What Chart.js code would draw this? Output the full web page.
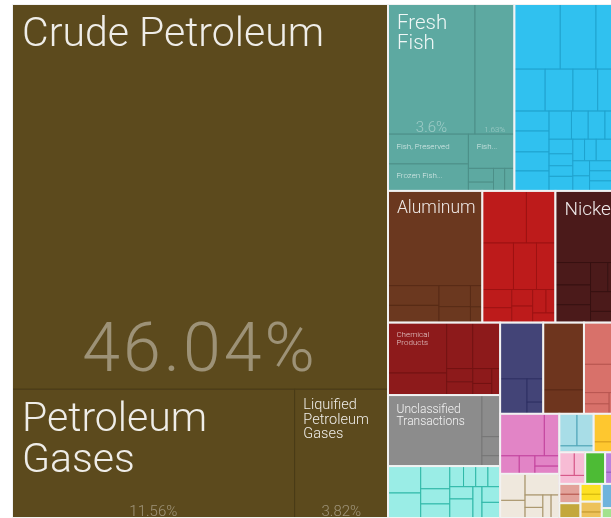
<!DOCTYPE html>
<html lang="en">
<head>
  <meta charset="UTF-8" />
  <title>Export treemap</title>
  <script src="https://cdn.jsdelivr.net/npm/chart.js@4.4.3/dist/chart.umd.min.js"></script>
  <style>
    html, body {
      margin: 0;
      padding: 0;
      background: #ffffff;
      overflow: hidden;
    }
    .chart-box {
      position: absolute;
      left: 12px;
      top: 4px;
      width: 612px;
      height: 514px;
    }
  </style>
</head>
<body>
  <div class="chart-box">
    <canvas id="treemap"></canvas>
  </div>

  <script>
    // share of total exports (%) per product, nested arrays = sub-blocks
    const mineralValues = [46.04, [11.56, 3.82]];
    const fishValues = [[3.6, 1.63], [[0.76, 0.69], [0.5, [[0.11, 0.07], 0.08, 0.07]]]];
    const machineValues = [[0.95, 0.74, 0.58], [0.41, 0.37, 0.33, 0.35],
      [[0.22, 0.23, 0.21, 0.22], [[0.2, 0.15, 0.15, 0.17], [[0.11, 0.09, 0.08, 0.11], [[0.08, 0.08, 0.19], [[0.08, 0.08], [0.11, 0.11, 0.11]]]]]]];
    const aluminiumValues = [2.84, [[0.32, 0.28], [0.21, 0.16], [0.08, 0.06]]];
    const ironValues = [[0.73, 0.48], [0.46, 0.34, 0.28], [[0.17, 0.14], [0.11, 0.11], [[0.1, 0.07], 0.07]]];
    const nickelValues = [1.56, [[0.25, 0.22, 0.2], [[0.16, 0.15], 0.21, 0.12]]];
    const chemicalValues = [[0.94, 0.41], [[0.38, 0.4], [[0.11, 0.11], [0.09, 0.07], 0.07]]];
    const unclassifiedValues = [2.12, [0.24, 0.11, 0.06]];
    const aquaValues = [[0.28, 0.26], [0.21, 0.14, 0.13], [[0.09, 0.08, 0.08, 0.08], [[0.09, 0.14], 0.09, [0.09, 0.09]]]];
    const navyValues = [0.77, [0.3, [0.12, 0.06]]];
    const copperValues = [0.87, 0.31];
    const salmonValues = [0.53, 0.36, [[0.09, 0.08], 0.1]];
    const pinkValues = [[0.59, 0.2], [0.11, 0.09, [0.08, 0.06]]];
    const beigeValues = [[0.21, 0.14], [0.23, [[0.07, 0.06], 0.06, 0.06]]];
    const skyValues = [[0.18, 0.17], 0.07];
    const orangeValues = [0.27, 0.1];
    const lightPinkValues = [[0.11, 0.08], 0.07];
    const greenValues = [0.2];
    const purpleValues = [0.12, 0.07];
    const roseValues = [0.07, 0.06];
    const oliveValues = [0.1];
    const yellowValues = [0.07, 0.05];
    const goldValues = [0.07, 0.04];
    const blueValues = [0.17];
    const lightGreenValues = [0.07];

    // product names (same order as the flattened values)
    const mineralNames = ['Crude Petroleum', 'Petroleum Gases', 'Liquified Petroleum Gases'];
    const fishNames = ['Fresh Fish', '', 'Fish, Preserved', 'Frozen Fish...', 'Fish...'];
    const aluminiumNames = ['Aluminum'];
    const nickelNames = ['Nickel'];
    const chemicalNames = ['Chemical Products'];
    const unclassifiedNames = ['Unclassified Transactions'];

    // groups: values, colours, first split direction inside the group
    const groups = {
      mineral:      { values: mineralValues, names: mineralNames, fill: '#5C4A1D', line: '#4A3B17', dir: 'v' },
      fish:         { values: fishValues, names: fishNames, fill: '#5DA9A1', line: '#4C8F88', dir: 'v' },
      machines:     { values: machineValues, fill: '#30C1EF', line: '#1FA3CF', dir: 'v' },
      aluminium:    { values: aluminiumValues, names: aluminiumNames, fill: '#6B381F', line: '#582B16', dir: 'v' },
      iron:         { values: ironValues, fill: '#BD1B1B', line: '#9E1212', dir: 'v' },
      nickel:       { values: nickelValues, names: nickelNames, fill: '#4B1A1A', line: '#371111', dir: 'v' },
      chemicals:    { values: chemicalValues, names: chemicalNames, fill: '#8D1A1B', line: '#731212', dir: 'h' },
      unclassified: { values: unclassifiedValues, names: unclassifiedNames, fill: '#8C8C8C', line: '#767676', dir: 'h' },
      aqua:         { values: aquaValues, fill: '#9AEDE6', line: '#2FB8A8', dir: 'h' },
      navy:         { values: navyValues, fill: '#434477', line: '#2E2F63', dir: 'v' },
      copper:       { values: copperValues, fill: '#6E351E', line: '#5A2815', dir: 'v' },
      salmon:       { values: salmonValues, fill: '#D8716A', line: '#B85650', dir: 'v' },
      pink:         { values: pinkValues, fill: '#E284C6', line: '#C4449E', dir: 'v' },
      beige:        { values: beigeValues, fill: '#EFE8DD', line: '#A8946A', dir: 'h' },
      sky:          { values: skyValues, fill: '#A8DDE7', line: '#4FA5B8', dir: 'v' },
      orange:       { values: orangeValues, fill: '#FEC72F', line: '#D99E1A', dir: 'v' },
      lightPink:    { values: lightPinkValues, fill: '#F7BCD5', line: '#D65587', dir: 'v' },
      green:        { values: greenValues, fill: '#4DBB35', line: '#3C9A28', dir: 'v' },
      purple:       { values: purpleValues, fill: '#B983DD', line: '#9560BA', dir: 'v' },
      rose:         { values: roseValues, fill: '#E2A29A', line: '#B85A52', dir: 'v' },
      olive:        { values: oliveValues, fill: '#C3A83C', line: '#9E8628', dir: 'v' },
      yellow:       { values: yellowValues, fill: '#FDE023', line: '#D4B80C', dir: 'v' },
      gold:         { values: goldValues, fill: '#EDC25A', line: '#C49A30', dir: 'v' },
      blue:         { values: blueValues, fill: '#6FB3DC', line: '#4C93BE', dir: 'v' },
      lightGreen:   { values: lightGreenValues, fill: '#A2E28E', line: '#79C064', dir: 'v' }
    };

    // how the groups are nested (columns first, then alternating rows/columns)
    const groupLayout = ['mineral', [
      ['fish', 'machines'],
      ['aluminium', 'iron', 'nickel'],
      [['chemicals', 'unclassified', 'aqua'],
       [['navy', 'copper', 'salmon'],
        [['pink', 'beige'],
         [['sky', 'orange'], ['lightPink', 'green', 'purple'],
          [['rose', 'olive'], ['yellow', 'gold'], ['blue', 'lightGreen']]]]]]
    ]];

    // label sizes (px) for the labelled cells
    const labelStyle = {
      'mineral-0': { size: 41, pct: 68, spacing: 3 },
      'mineral-1': { size: 41, pct: 15 },
      'mineral-2': { size: 14.5, pct: 15 },
      'fish-0': { size: 20.5, pct: 15 },
      'fish-1': { pct: 8 },
      'fish-2': { size: 8 },
      'fish-3': { size: 8 },
      'fish-4': { size: 8 },
      'aluminium-0': { size: 17.5 },
      'nickel-0': { size: 19 },
      'chemicals-0': { size: 8 },
      'unclassified-0': { size: 12 }
    };

    const FONT = 'Roboto, "Liberation Sans", Arial, sans-serif';

    function sizeOf(node) {
      if (typeof node === 'number') return node;
      if (typeof node === 'string') return sizeOf(groups[node].values);
      return node.reduce((s, c) => s + sizeOf(c), 0);
    }

    // slice and dice, alternating direction at each level
    function place(node, x0, y0, x1, y1, dir, out) {
      if (!Array.isArray(node)) {
        out.push({ node, x0, y0, x1, y1 });
        return;
      }
      const total = sizeOf(node);
      let pos = dir === 'h' ? x0 : y0;
      node.forEach(child => {
        const share = sizeOf(child) / total;
        if (dir === 'h') {
          const w = (x1 - x0) * share;
          place(child, pos, y0, pos + w, y1, 'v', out);
          pos += w;
        } else {
          const h = (y1 - y0) * share;
          place(child, x0, pos, x1, pos + h, 'h', out);
          pos += h;
        }
      });
    }

    function wrap(ctx, text, maxW) {
      const words = text.split(' ');
      const lines = [];
      let line = '';
      words.forEach(w => {
        const test = line ? line + ' ' + w : w;
        if (line && ctx.measureText(test).width > maxW) {
          lines.push(line);
          line = w;
        } else {
          line = test;
        }
      });
      if (line) lines.push(line);
      return lines;
    }

    const treemapPlugin = {
      id: 'treemap',
      afterDraw(chart) {
        const ctx = chart.ctx;
        const xs = chart.scales.x, ys = chart.scales.y;
        const px = v => xs.getPixelForValue(v);
        const py = v => ys.getPixelForValue(v);

        const groupRects = [];
        place(groupLayout, 0, 0, 1, 1, 'h', groupRects);

        ctx.save();
        groupRects.forEach(gr => {
          const g = groups[gr.node];
          const leaves = [];
          place(g.values, gr.x0, gr.y0, gr.x1, gr.y1, g.dir, leaves);

          leaves.forEach((lf, i) => {
            const x = px(lf.x0), y = py(lf.y0);
            const w = px(lf.x1) - x, h = py(lf.y1) - y;
            ctx.fillStyle = g.fill;
            ctx.fillRect(x, y, w, h);
            ctx.strokeStyle = g.line;
            ctx.lineWidth = 1;
            ctx.strokeRect(x, y, w, h);

            const st = labelStyle[gr.node + '-' + i];
            if (!st) return;
            ctx.save();
            ctx.beginPath();
            ctx.rect(x, y, w, h);
            ctx.clip();
            if (st.size) {
              const s = st.size;
              ctx.font = '300 ' + s + 'px ' + FONT;
              ctx.fillStyle = s < 10 ? 'rgba(255,255,255,0.75)' : 'rgba(255,255,255,0.9)';
              ctx.textAlign = 'left';
              ctx.textBaseline = 'alphabetic';
              const padX = 8 + 0.05 * s;
              const lines = wrap(ctx, g.names[i], w - 2 * padX);
              lines.forEach((ln, k) => {
                ctx.fillText(ln, x + padX, y + 8 + 0.12 * s + 0.7 * s + k * s);
              });
            }
            if (st.pct) {
              const s = st.pct;
              ctx.font = '300 ' + s + 'px ' + FONT;
              ctx.letterSpacing = (st.spacing || 0) + 'px';
              ctx.fillStyle = 'rgba(255,255,255,0.4)';
              ctx.textAlign = 'center';
              ctx.textBaseline = 'alphabetic';
              ctx.fillText(lf.node + '%', x + w / 2, y + h - Math.max(2.5, 0.3 * s - 2));
              ctx.letterSpacing = '0px';
            }
            ctx.restore();
          });

          // group outline
          const gx = px(gr.x0), gy = py(gr.y0);
          ctx.strokeStyle = '#f2f2f2';
          ctx.lineWidth = 2;
          ctx.strokeRect(gx, gy, px(gr.x1) - gx, py(gr.y1) - gy);
        });
        ctx.restore();
      }
    };

    new Chart(document.getElementById('treemap').getContext('2d'), {
      type: 'scatter',
      data: { datasets: [] },
      options: {
        responsive: true,
        maintainAspectRatio: false,
        animation: false,
        layout: { padding: 0 },
        scales: {
          x: { display: false, min: 0, max: 1 },
          y: { display: false, min: 0, max: 1, reverse: true }
        },
        plugins: {
          legend: { display: false },
          tooltip: { enabled: false }
        }
      },
      plugins: [treemapPlugin]
    });
  </script>
</body>
</html>
